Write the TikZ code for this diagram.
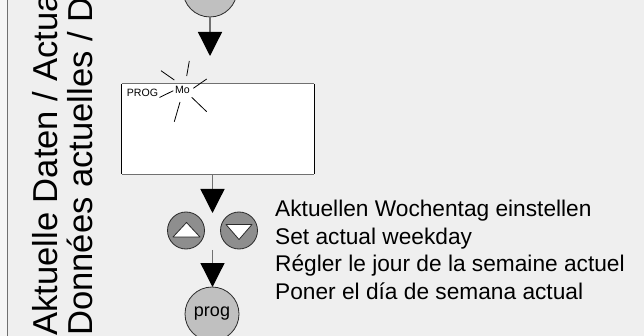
\documentclass[tikz,border=0pt]{standalone}
\usepackage{fontspec}
\setmainfont{Liberation Sans}
\usetikzlibrary{arrows.meta}
\definecolor{bg}{HTML}{EFEFEF}
\definecolor{bgl}{HTML}{F5F5F5}
\definecolor{stem}{HTML}{707070}
\definecolor{lightbtn}{HTML}{C0C0C0}
\definecolor{darkbtn}{HTML}{8E8E8E}
\definecolor{edge}{HTML}{2A2A2A}
\tikzset{
  flowarrow/.style={draw=stem, line width=1.3pt,
    -{Triangle[width=24pt,length=24pt,color=black,fill=black]}},
  bigbtn/.style={circle, draw=edge, line width=0.8pt, fill=lightbtn,
    minimum size=54pt, inner sep=0pt, font=\fontsize{18}{20}\selectfont},
  arrbtn/.style={circle, draw=edge, line width=0.8pt, fill=darkbtn,
    minimum size=37pt, inner sep=0pt},
  tri/.style={fill=white, draw=edge, line width=0.8pt, line join=round},
  burst/.style={draw=black, line width=0.8pt},
  sidetext/.style={rotate=90, anchor=base west, inner sep=0pt,
    font=\fontsize{34.6}{36}\selectfont},
  desc/.style={anchor=base west, inner sep=0pt,
    font=\fontsize{22.7}{27.4}\selectfont},
  tiny/.style={inner sep=0pt, font=\fontsize{10.6}{12}\selectfont}
}
\begin{document}
\begin{tikzpicture}[x=1pt,y=-1pt]
\useasboundingbox (0,0) rectangle (644,336);
\clip (0,0) rectangle (644,336);
\fill[bg] (0,0) rectangle (644,336);
\fill[bgl] (0,0) rectangle (7.5,336);
\draw[stem, line width=1.5pt] (7.5,0) -- (7.5,336);

% side texts (cut at the top edge, as in the reference)
\node[sidetext] (side1) at (57.5,336) {Aktuelle Daten / Actua};
\node[sidetext] (side2) at (92,336) {Données actuelles / D};

% top button
\node[bigbtn] (topbtn) at (210,-10) {};
\coordinate (tip1) at (210,56);
\draw[flowarrow] (topbtn.south) -- (tip1);

% display
\node[rectangle, fill=white, minimum width=192pt, minimum height=90pt,
      inner sep=0pt] (disp) at (218,129) {};
\draw[stem, line width=1.3pt] (disp.north west) -- (disp.north east);
\draw[stem, line width=1.3pt] (disp.south west) -- (disp.south east);
\draw[black, line width=1.1pt] (disp.north west) -- (disp.south west);
\draw[black, line width=1.1pt] (disp.north east) -- (disp.south east);
\node[tiny] (prog) at (142.5,92.5) {PROG};
\node[tiny] (mo) at (182.5,90) {Mo};
\draw[burst] (159.5,97.5) -- (173.3,90.7);
\draw[burst] (161,70.7) -- (174.3,80);
\draw[burst] (189.3,61) -- (186.7,76);
\draw[burst] (206.7,79) -- (193.3,88.3);
\draw[burst] (191.7,97.3) -- (206.7,111.7);
\draw[burst] (180,102) -- (174.3,121.7);

% arrow to buttons
\coordinate (tip2) at (212.5,213);
\draw[flowarrow] (disp.south -| tip2) -- (tip2);

% up / down buttons
\node[arrbtn] (up) at (186,230.5) {};
\node[arrbtn] (down) at (239,230.5) {};
\draw[tri] (173,237) -- (200,237) -- (186.5,222.5) -- cycle;
\draw[tri] (226,224.5) -- (252,224.5) -- (239,239.5) -- cycle;

% arrow to prog
\coordinate (s3) at (212.5,250);
\coordinate (tip3) at (212.5,287);
\draw[flowarrow] (s3) -- (tip3);
\node[bigbtn] (progbtn) at (212,314) {prog};

% description
\node[desc] (txt1) at (275,217) {Aktuellen Wochentag einstellen};
\node[desc] (txt2) at (275,244.5) {Set actual weekday};
\node[desc] (txt3) at (275,272) {Régler le jour de la semaine actuel};
\node[desc] (txt4) at (275,299.5) {Poner el día de semana actual};
\end{tikzpicture}
\end{document}
